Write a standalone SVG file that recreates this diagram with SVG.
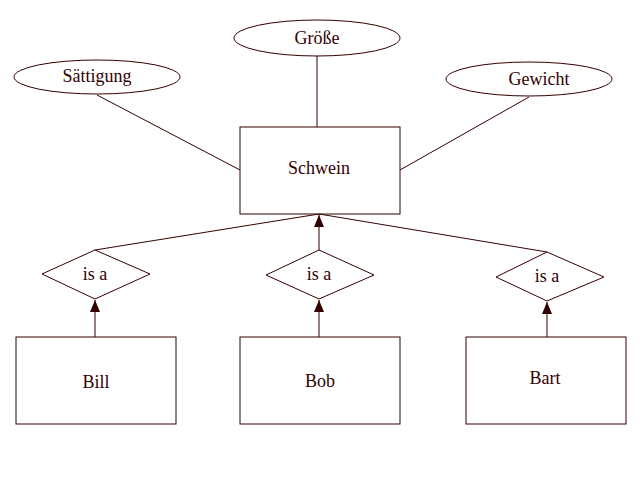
<svg xmlns="http://www.w3.org/2000/svg" width="640" height="480" viewBox="0 0 640 480">
<style>
.s{fill:none;stroke:#330000;stroke-width:1}
.t{font-family:"Liberation Serif","Times New Roman",serif;font-size:18px;fill:#330000;text-anchor:middle}
</style>
<defs>
<marker id="ah" markerWidth="12" markerHeight="10" refX="12" refY="5" orient="auto" markerUnits="userSpaceOnUse" viewBox="0 0 12 10">
<path d="M0,0 L12,5 L0,10 Z" fill="#330000"/>
</marker>
</defs>
<rect width="640" height="480" fill="#ffffff"/>
<g id="connectors">
<line class="s" x1="317" y1="56" x2="317" y2="127"/>
<line class="s" x1="97" y1="95" x2="240" y2="170"/>
<line class="s" x1="529" y1="97" x2="400" y2="170"/>
<line class="s" x1="95" y1="250" x2="319" y2="214"/>
<line class="s" x1="547" y1="252" x2="319" y2="214"/>
<path class="s" d="M319,250 L319,215" marker-end="url(#ah)"/>
<path class="s" d="M95,337 L95,300" marker-end="url(#ah)"/>
<path class="s" d="M319,337 L319,300" marker-end="url(#ah)"/>
<path class="s" d="M547,337 L547,302" marker-end="url(#ah)"/>
</g>
<g id="groesse"><ellipse class="s" cx="317" cy="38" rx="83" ry="18"/><text class="t" x="317" y="44">Größe</text></g>
<g id="saettigung"><ellipse class="s" cx="97" cy="77" rx="83" ry="17"/><text class="t" x="97" y="82">Sättigung</text></g>
<g id="gewicht"><ellipse class="s" cx="529" cy="79" rx="83" ry="17"/><text class="t" x="539" y="85">Gewicht</text></g>
<g id="schwein"><rect class="s" x="240" y="127" width="160" height="87"/><text class="t" x="319" y="174">Schwein</text></g>
<g id="isa1"><polygon class="s" points="95,250 150,274 95,299 42,274"/><text class="t" x="95" y="280">is a</text></g>
<g id="isa2"><polygon class="s" points="319,250 374,275 319,299 266,275"/><text class="t" x="319" y="280">is a</text></g>
<g id="isa3"><polygon class="s" points="547,252 604,277 547,301 496,277"/><text class="t" x="547" y="282">is a</text></g>
<g id="bill"><rect class="s" x="16" y="337" width="160" height="87"/><text class="t" x="96" y="388">Bill</text></g>
<g id="bob"><rect class="s" x="240" y="337" width="160" height="87"/><text class="t" x="320" y="387">Bob</text></g>
<g id="bart"><rect class="s" x="466" y="337" width="160" height="87"/><text class="t" x="545" y="384">Bart</text></g>
</svg>
